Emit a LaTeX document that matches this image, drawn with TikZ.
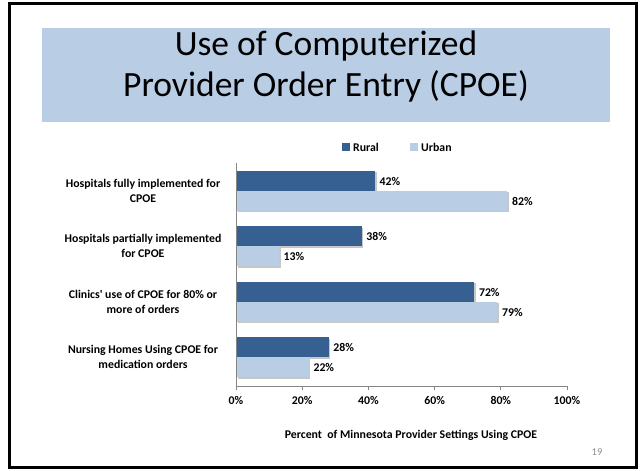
\documentclass[tikz,border=0pt]{standalone}
\usepackage{fontspec}
\setmainfont{Carlito}
\definecolor{rural}{HTML}{376092}
\definecolor{urban}{HTML}{B9CDE5}
\definecolor{axisgray}{HTML}{868686}
\definecolor{pagenum}{HTML}{8C8C8C}
% straight apostrophe glyph, bypassing the TeX quote mapping
\newcommand{\straightquote}{\XeTeXglyph\the\XeTeXcharglyph"0027\relax}
\tikzset{
  frame/.style={draw=black, line width=2.5pt},
  titlebox/.style={fill=urban, draw=none},
  ruralbar/.style={fill=rural, draw=none},
  urbanbar/.style={fill=urban, draw=none},
  barshadow/.style={fill=black!22, draw=none},
  axisline/.style={draw=axisgray, line width=0.8pt},
  chartfont/.style={font=\bfseries\fontsize{11.8}{15}\selectfont},
  catlabel/.style={chartfont, align=center, anchor=center, inner sep=0pt},
  vallabel/.style={chartfont, anchor=west, inner sep=0pt},
  ticklabel/.style={chartfont, anchor=center, inner sep=0pt},
  legendtext/.style={chartfont, anchor=west, inner sep=0pt}
}
\begin{document}
\begin{tikzpicture}[x=1pt, y=-1pt]
  \useasboundingbox (0,0) rectangle (641,471);
  % slide frame
  \draw[frame] (9.5,3.5) rectangle (636.5,467.5);
  % title banner
  \fill[titlebox] (42,28) rectangle (610,122);
  \node[font=\fontsize{35.5}{41}\selectfont, align=center] (title) at (326,67)
    {Use of Computerized\\Provider Order Entry (CPOE)};

  % legend
  \fill[ruralbar] (342,143) rectangle (350,151);
  \node[legendtext] (lgr) at (353,147) {Rural};
  \fill[urbanbar] (410,143) rectangle (418,151);
  \node[legendtext] (lgu) at (421,147) {Urban};

  % bars: 0% at x=236, 1% = 3.31
  \def\xz{236}
  \def\sc{3.31}
  \foreach \i/\r/\u/\lab in {
      0/42/82/{Hospitals fully implemented for\\CPOE},
      1/38/13/{Hospitals partially implemented\\for CPOE},
      2/72/79/{Clinics\straightquote\ use of CPOE for 80\% or\\more of orders},
      3/28/22/{Nursing Homes Using CPOE for\\medication orders}} {
    \pgfmathsetmacro{\yt}{170.7+55.5*\i}
    \pgfmathsetmacro{\ym}{\yt+20}
    \pgfmathsetmacro{\yb}{\yt+40}
    \pgfmathsetmacro{\xr}{\xz+\sc*\r}
    \pgfmathsetmacro{\xu}{\xz+\sc*\u}
    \fill[barshadow] (\xz+1.5,\yt+1.5) rectangle (\xr+1.5,\ym+1.5);
    \fill[ruralbar] (\xz,\yt) rectangle (\xr,\ym);
    \fill[barshadow] (\xz+1.5,\ym+1.5) rectangle (\xu+1.5,\yb+1.5);
    \fill[urbanbar] (\xz,\ym) rectangle (\xu,\yb);
    \node[vallabel] (vr\i) at (\xr+4.5,\yt+10.5) {\r\%};
    \node[vallabel] (vu\i) at (\xu+4.5,\ym+10.5) {\u\%};
    \node[catlabel] (cat\i) at (143,\yt+20) {\lab};
  }

  % axes
  \draw[axisline] (\xz,163) -- (\xz,386) -- (567,386);
  \foreach \t in {0,20,40,60,80,100} {
    \draw[axisline] (\xz+\sc*\t,386) -- (\xz+\sc*\t,390);
    \node[ticklabel] (tick\t) at (\xz+\sc*\t,400) {\t\%};
  }
  \node[chartfont] (axtitle) at (411,435)
    {Percent\ \ of Minnesota Provider Settings Using CPOE};
  \node[font=\fontsize{10.5}{12}\selectfont, text=pagenum] (pgnum) at (597,452) {19};
\end{tikzpicture}
\end{document}
